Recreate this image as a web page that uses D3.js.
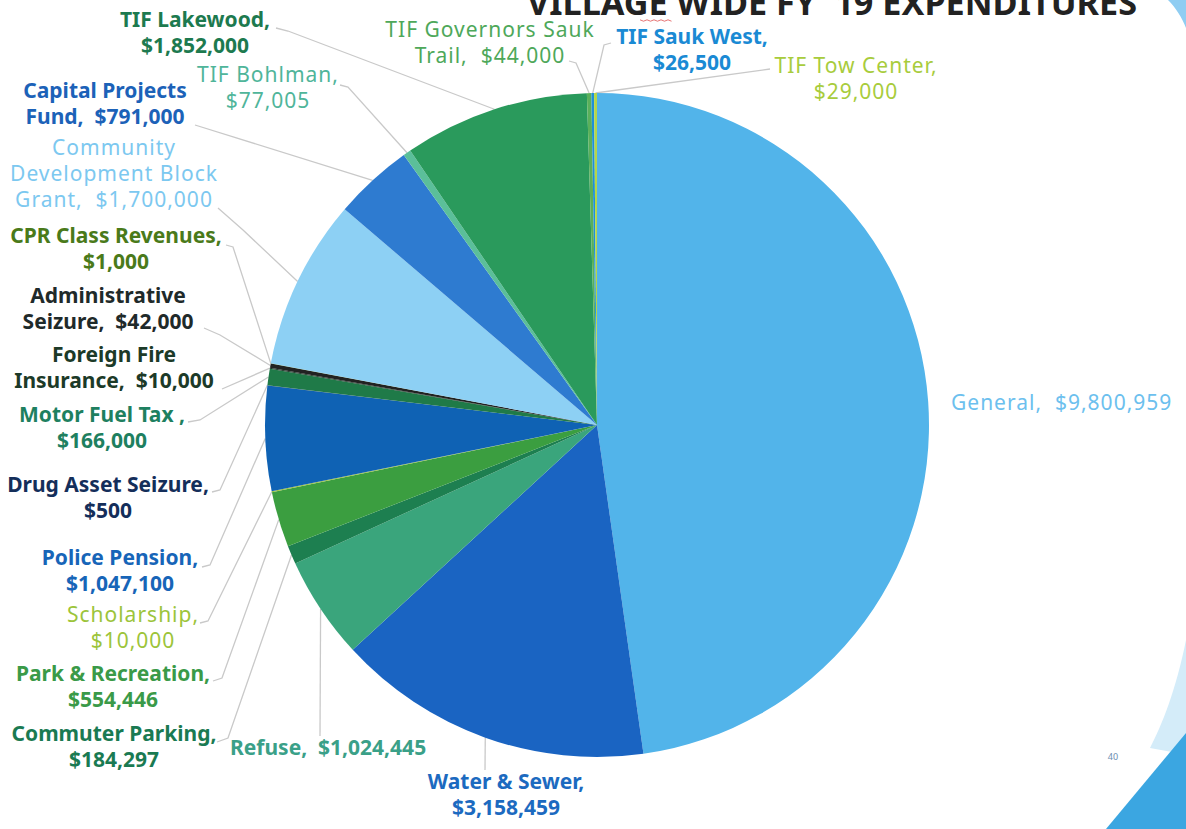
<!DOCTYPE html>
<html>
<head>
<meta charset="utf-8">
<script src="https://cdn.jsdelivr.net/npm/d3@7"></script>
<style>
  html, body { margin: 0; padding: 0; background: #fff; }
  svg { display: block; font-family: "Noto Sans", "Open Sans", sans-serif; }
</style>
</head>
<body>
<svg id="chart" width="1186" height="829"></svg>
<script>
// Village-wide FY '19 expenditures by fund
const funds = [
  "General", "Water & Sewer", "Refuse", "Commuter Parking", "Park & Recreation",
  "Scholarship", "Police Pension", "Drug Asset Seizure", "Motor Fuel Tax",
  "Foreign Fire Insurance", "Administrative Seizure", "CPR Class Revenues",
  "Community Development Block Grant", "Capital Projects Fund", "TIF Bohlman",
  "TIF Lakewood", "TIF Governors Sauk Trail", "TIF Sauk West", "TIF Tow Center"
];
const amounts = [
  9800959, 3158459, 1024445, 184297, 554446,
  10000, 1047100, 500, 166000,
  10000, 42000, 1000,
  1700000, 791000, 77005,
  1852000, 44000, 26500, 29000
];
// label text per fund; {v} is replaced by the formatted amount
const labelLines = [
  ["General,  {v}"],
  ["Water & Sewer,", "{v}"],
  ["Refuse,  {v}"],
  ["Commuter Parking,", "{v}"],
  ["Park & Recreation,", "{v}"],
  ["Scholarship,", "{v}"],
  ["Police Pension,", "{v}"],
  ["Drug Asset Seizure,", "{v}"],
  ["Motor Fuel Tax ,", "{v}"],
  ["Foreign Fire", "Insurance,  {v}"],
  ["Administrative", "Seizure,  {v}"],
  ["CPR Class Revenues,", "{v}"],
  ["Community", "Development Block", "Grant,  {v}"],
  ["Capital Projects", "Fund,  {v}"],
  ["TIF Bohlman,", "{v}"],
  ["TIF Lakewood,", "{v}"],
  ["TIF Governors Sauk", "Trail,  {v}"],
  ["TIF Sauk West,", "{v}"],
  ["TIF Tow Center,", "{v}"]
];
const titleText = "VILLAGE WIDE FY '19 EXPENDITURES";

// slice and label colours
const sliceColors = [
  "#52b4ea", "#1a64c2", "#3aa57c", "#1d7f50", "#3b9e40",
  "#9cc43a", "#0f62b4", "#142e5a", "#1f7a48",
  "#1c3a28", "#222222", "#4a7a1a",
  "#8dd0f4", "#2e7bd0", "#5bbf9a",
  "#2a9a5c", "#5ab05a", "#1e90d8", "#b5d64a"
];
const labelColors = [
  "#6cc0ee", "#1c6ac0", "#3aa088", "#1a7a52", "#3a9a48",
  "#9cc43a", "#1765b8", "#142e5a", "#1e8060",
  "#1c3a28", "#1f2a2a", "#4a7a1a",
  "#7cc8f0", "#1c62b8", "#4fb59a",
  "#1d7a4f", "#4ea85a", "#1a8ad4", "#a8cc3c"
];
const labelWeights = [
  400, 700, 700, 700, 700,
  400, 700, 700, 700,
  700, 700, 700,
  400, 700, 400,
  700, 400, 700, 400
];

// label placement: x, first baseline, anchor, and leader path near the label
const labelLayout = [
  { x: 951, y: 410, a: "start",  lead: null },
  { x: 506, y: 789, a: "middle", lead: [[485, 770]] },
  { x: 230, y: 755, a: "start",  lead: [[320, 736]] },
  { x: 114, y: 741, a: "middle", lead: [[228, 738], [217, 742]] },
  { x: 113, y: 681, a: "middle", lead: [[222, 678], [213, 681]] },
  { x: 133, y: 622, a: "middle", lead: [[208, 621], [200, 623]] },
  { x: 120, y: 565, a: "middle", lead: [[210, 565], [202, 567]] },
  { x: 108, y: 492, a: "middle", lead: [[220, 490], [212, 492]] },
  { x: 102, y: 422, a: "middle", lead: [[200, 420], [188, 422]] },
  { x: 114, y: 362, a: "middle", lead: [[222, 389]] },
  { x: 108, y: 303, a: "middle", lead: [[220, 335], [204, 328]] },
  { x: 116, y: 243, a: "middle", lead: [[233, 247], [226, 245]] },
  { x: 114, y: 155, a: "middle", lead: [[243, 230], [218, 208]] },
  { x: 105, y: 98,  a: "middle", lead: [[195, 125]] },
  { x: 268, y: 82,  a: "middle", lead: [[348, 87], [340, 85]] },
  { x: 195, y: 27,  a: "middle", lead: [[288, 31], [276, 28]] },
  { x: 490, y: 37,  a: "middle", lead: [[576, 63], [569, 61]] },
  { x: 692, y: 44,  a: "middle", lead: [[604, 45], [611, 43]] },
  { x: 856, y: 73,  a: "middle", lead: [[770, 69]] }
];

const svg = d3.select("#chart");
const cx = 597, cy = 425, R = 332;
const fmt = d3.format("$,");

// corner decorations
svg.append("path")
  .attr("d", "M1150,748 C1162,725 1176,690 1186,640 L1186,736 L1172,752 Z")
  .attr("fill", "#d4ecf9");
svg.append("path")
  .attr("d", "M1106,829 L1186,733 L1186,829 Z")
  .attr("fill", "#3ba6e1");
svg.append("path")
  .attr("d", "M1168,0 C1176,8 1182,18 1186,28 L1186,0 Z")
  .attr("fill", "#8fcdf2");
svg.append("text")
  .attr("x", 1113).attr("y", 760)
  .attr("text-anchor", "middle")
  .attr("font-size", 9).attr("fill", "#6b8db0")
  .text("40");

// title, clipped by the top edge
svg.append("text")
  .attr("x", 527).attr("y", 15)
  .attr("textLength", 610).attr("lengthAdjust", "spacingAndGlyphs")
  .attr("font-size", 34).attr("font-weight", 700).attr("fill", "#222")
  .text(titleText);
svg.append("path")
  .attr("d", d3.range(0, 10).map(i => (i === 0 ? "M" : "L") + (640 + i * 3.5) + "," + (20 + (i % 2 ? 1.2 : -0.2))).join(" "))
  .attr("fill", "none").attr("stroke", "#e05050").attr("stroke-width", 0.8);

// pie
const data = funds.map((f, i) => ({ fund: f, value: amounts[i], i }));
const pie = d3.pie().value(d => d.value).sort(null).startAngle(0).endAngle(2 * Math.PI);
const arcs = pie(data);
const arc = d3.arc().innerRadius(0).outerRadius(R);

const g = svg.append("g").attr("transform", `translate(${cx},${cy})`);

// leader lines (under the pie)
const leadG = svg.append("g").lower();
arcs.forEach((d, i) => {
  const L = labelLayout[i];
  if (!L.lead) return;
  const mid = (d.startAngle + d.endAngle) / 2;
  const p0 = [cx + R * Math.sin(mid), cy - R * Math.cos(mid)];
  const pts = [p0].concat(L.lead);
  leadG.append("path")
    .attr("d", d3.line()(pts))
    .attr("fill", "none")
    .attr("stroke", "#c9c9c9")
    .attr("stroke-width", 1.3);
});

g.selectAll("path.slice")
  .data(arcs)
  .join("path")
  .attr("class", "slice")
  .attr("d", arc)
  .attr("fill", d => sliceColors[d.data.i]);

// labels
arcs.forEach((d, i) => {
  const L = labelLayout[i];
  const bold = labelWeights[i] === 700;
  const t = svg.append("text")
    .attr("x", L.x).attr("y", L.y)
    .attr("text-anchor", L.a)
    .attr("font-size", bold ? 21 : 21)
    .attr("font-weight", labelWeights[i])
    .attr("letter-spacing", bold ? 0 : 1)
    .attr("fill", labelColors[i]);
  labelLines[i].forEach((line, k) => {
    t.append("tspan")
      .attr("x", L.x)
      .attr("dy", k === 0 ? 0 : 26)
      .attr("xml:space", "preserve")
      .style("white-space", "pre")
      .text(line.replace("{v}", fmt(d.data.value)));
  });
});
</script>
</body>
</html>
